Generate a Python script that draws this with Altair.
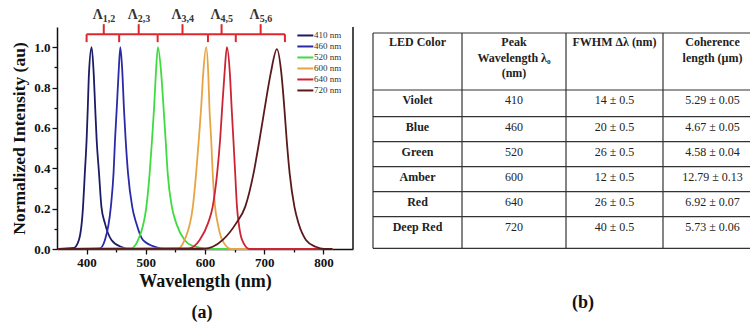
import altair as alt
import pandas as pd

# ---------------- spectra ----------------
series_names = ["410 nm", "460 nm", "520 nm", "600 nm", "640 nm", "720 nm"]
series_colors = ["#1c1c66", "#2a2aa8", "#3fdc3f", "#e8a444", "#cc2434", "#5a1a1c"]

wl_410 = [352, 378, 387, 394, 397, 400, 402, 404, 408.5, 412, 414.5, 417, 421, 425, 431, 442, 459, 475, 815]
in_410 = [0, 0.005, 0.045, 0.21, 0.375, 0.54, 0.70, 0.87, 1.0, 0.87, 0.70, 0.54, 0.375, 0.21, 0.127, 0.045, 0.01, 0.0, 0]

wl_460 = [352, 422, 431, 441, 445.5, 448, 451, 454, 457, 460.5, 463, 466, 470, 477, 484, 495, 518, 535, 815]
in_460 = [0, 0.003, 0.045, 0.21, 0.375, 0.54, 0.70, 0.87, 1.0, 0.87, 0.70, 0.54, 0.375, 0.21, 0.127, 0.045, 0.008, 0, 0]

wl_520 = [352, 475, 487, 501, 506.5, 510.5, 514, 517, 520.5, 526, 530, 533.5, 537, 544, 551.5, 565.5, 579, 608, 815]
in_520 = [0, 0.003, 0.045, 0.21, 0.375, 0.54, 0.70, 0.87, 1.0, 0.87, 0.70, 0.54, 0.375, 0.21, 0.127, 0.045, 0.015, 0.0, 0]

wl_600 = [352, 555, 565.5, 579.5, 585, 589.5, 593.5, 597, 602, 605.5, 607.5, 610.5, 613, 617, 621.5, 629, 644, 815]
in_600 = [0, 0.003, 0.045, 0.21, 0.375, 0.54, 0.70, 0.87, 1.0, 0.87, 0.70, 0.54, 0.375, 0.21, 0.127, 0.045, 0.0, 0]

wl_640 = [352, 572, 591, 605, 613, 620.5, 625.5, 629, 633, 637, 642, 645, 648, 651, 654, 657, 662.6, 675, 815]
in_640 = [0, 0.003, 0.045, 0.127, 0.21, 0.375, 0.54, 0.70, 0.87, 1.0, 0.87, 0.70, 0.54, 0.375, 0.21, 0.127, 0.045, 0.0, 0]

wl_720 = [352, 600, 613, 630, 652.5, 668, 682, 692, 701, 711, 721.5, 729, 734, 738, 743, 751, 758, 770.5, 787, 801, 815]
in_720 = [0, 0.002, 0.011, 0.045, 0.127, 0.21, 0.375, 0.54, 0.70, 0.87, 0.99, 0.87, 0.70, 0.54, 0.375, 0.21, 0.127, 0.045, 0.011, 0, 0]

spectra_wl = [wl_410, wl_460, wl_520, wl_600, wl_640, wl_720]
spectra_in = [in_410, in_460, in_520, in_600, in_640, in_720]

# ---------------- brackets Λ ----------------
bracket_edges = [400, 455, 520, 605, 652, 735]
bracket_mids = [429, 488, 562, 628, 694]
bracket_subs = ["1,2", "2,3", "3,4", "4,5", "5,6"]

# ---------------- table ----------------
table_header = ["LED Color", "Peak\nWavelength λ₀\n(nm)", "FWHM Δλ (nm)", "Coherence\nlength (µm)"]
led_color = ["Violet", "Blue", "Green", "Amber", "Red", "Deep Red"]
peak_wl = ["410", "460", "520", "600", "640", "720"]
fwhm = ["14 ± 0.5", "20 ± 0.5", "26 ± 0.5", "12 ± 0.5", "26 ± 0.5", "40 ± 0.5"]
coherence = ["5.29 ± 0.05", "4.67 ± 0.05", "4.58 ± 0.04", "12.79 ± 0.13", "6.92 ± 0.07", "5.73 ± 0.06"]

# ---------------- layout / style ----------------
SERIF = "Liberation Serif"
W, H = 693, 222
PLOT_W = 296
BR_Y, BR_END, BR_TOP, BR_LAB = 1.064, 1.025, 1.114, 1.16
LEG_X0, LEG_X1, LEG_TX, LEG_Y0, LEG_DY = 756, 783, 784, 1.058, 0.0545
col_edges = [0, 89, 193, 290, 389]
row_edges = [0, 57, 83.7, 108.7, 133.7, 158.7, 183.7, 215.3]

# ---------------- spectrum part ----------------
rows = []
for name, wls, ins in zip(series_names, spectra_wl, spectra_in):
    for w, v in zip(wls, ins):
        rows.append({"series": name, "wl": w, "I": v})
spec_df = pd.DataFrame(rows)

xs = alt.Scale(domain=[350, 850], range=[0, PLOT_W], nice=False, zero=False)
ys = alt.Scale(domain=[0, 1.1], nice=False, zero=False)
cs = alt.Scale(domain=series_names, range=series_colors)

x_axis = alt.Axis(
    values=[400, 450, 500, 550, 600, 650, 700, 750, 800],
    labelExpr="datum.value % 100 == 0 ? datum.label : ''",
    tickSize={"condition": {"test": "datum.value % 100 == 0", "value": 5}, "value": 3},
    title="Wavelength (nm)", titleFont=SERIF, titleFontSize=18, titleFontWeight="bold",
    titleColor="#111", titlePadding=3,
    labelFont=SERIF, labelFontSize=13, labelFontWeight="bold", labelColor="#111", labelPadding=2,
    domainColor="#111", domainWidth=1.5, tickColor="#111", tickWidth=1.3, grid=False,
)
y_axis = alt.Axis(
    values=[0, 0.1, 0.2, 0.3, 0.4, 0.5, 0.6, 0.7, 0.8, 0.9, 1.0],
    labelExpr="round(datum.value*10) % 2 == 0 ? format(datum.value, '.1f') : ''",
    tickSize={"condition": {"test": "round(datum.value*10) % 2 == 0", "value": 5}, "value": 3},
    title="Normalized Intensity (au)", titleFont=SERIF, titleFontSize=17.5, titleFontWeight="bold",
    titleColor="#111", titlePadding=5,
    labelFont=SERIF, labelFontSize=13, labelFontWeight="bold", labelColor="#111", labelPadding=2,
    domainColor="#111", domainWidth=1.5, tickColor="#111", tickWidth=1.3, grid=False,
)


def X(field):
    return alt.X(field, scale=xs, axis=x_axis)


def Y(field):
    return alt.Y(field, scale=ys, axis=y_axis)


lines = alt.Chart(spec_df).mark_line(strokeWidth=1.8, interpolate="monotone").encode(
    x=X("wl:Q"),
    y=Y("I:Q"),
    color=alt.Color("series:N", scale=cs, legend=None),
    detail="series:N",
)

border_df = pd.DataFrame({"wl": [850], "y0": [0], "y1": [1.1]})
right_border = alt.Chart(border_df).mark_rule(color="#111", strokeWidth=1.5).encode(
    x=X("wl:Q"), y=Y("y0:Q"), y2="y1:Q"
)

# brackets
hb = pd.DataFrame({"a": bracket_edges[:-1], "b": bracket_edges[1:], "y": [BR_Y] * 5})
br_h = alt.Chart(hb).mark_rule(color="#e0262a", strokeWidth=2).encode(
    x=X("a:Q"), x2="b:Q", y=Y("y:Q")
)
vb = pd.DataFrame({"x": bracket_edges, "y": [BR_END] * 6, "y2": [BR_Y] * 6})
br_e = alt.Chart(vb).mark_rule(color="#e0262a", strokeWidth=2).encode(
    x=X("x:Q"), y=Y("y:Q"), y2="y2:Q"
)
sb = pd.DataFrame({"x": bracket_mids, "y": [BR_Y] * 5, "y2": [BR_TOP] * 5})
br_s = alt.Chart(sb).mark_rule(color="#e0262a", strokeWidth=2).encode(
    x=X("x:Q"), y=Y("y:Q"), y2="y2:Q"
)
lab = pd.DataFrame({"x": bracket_mids, "y": [BR_LAB] * 5, "L": ["Λ"] * 5, "sub": bracket_subs})
lam = alt.Chart(lab).mark_text(font=SERIF, fontSize=14, fontWeight="bold", color="#333", align="right",
                               baseline="middle", dx=-1).encode(
    x=X("x:Q"), y=Y("y:Q"), text="L:N"
)
lam_sub = alt.Chart(lab).mark_text(font=SERIF, fontSize=10, fontWeight="bold", color="#333", align="left",
                                   baseline="middle", dx=-1, dy=4).encode(
    x=X("x:Q"), y=Y("y:Q"), text="sub:N"
)

# legend
leg = pd.DataFrame({
    "series": series_names,
    "x0": [LEG_X0] * 6, "x1": [LEG_X1] * 6, "tx": [LEG_TX] * 6,
    "y": [LEG_Y0 - i * LEG_DY for i in range(6)],
})
leg_lines = alt.Chart(leg).mark_rule(strokeWidth=2).encode(
    x=X("x0:Q"), x2="x1:Q", y=Y("y:Q"),
    color=alt.Color("series:N", scale=cs, legend=None),
)
leg_text = alt.Chart(leg).mark_text(font=SERIF, fontSize=9, color="#333", align="left", baseline="middle").encode(
    x=X("tx:Q"), y=Y("y:Q"), text="series:N"
)

cap_a = alt.Chart(pd.DataFrame({"x": [595], "y": [-0.317], "t": ["(a)"]})).mark_text(
    font=SERIF, fontSize=18, fontWeight="bold", color="#111", baseline="middle"
).encode(x=X("x:Q"), y=Y("y:Q"), text="t:N")

spectrum = alt.layer(lines, right_border, br_h, br_e, br_s, lam, lam_sub, leg_lines, leg_text, cap_a)

# ---------------- table part ----------------
txs = alt.Scale(domain=[0, 389], range=[316, 705], nice=False, zero=False)
tys = alt.Scale(domain=[0, 215.3], range=[6, 221.3], nice=False, zero=False)


def TX(field):
    return alt.X(field, scale=txs, axis=None)


def TY(field):
    return alt.Y(field, scale=tys, axis=None)


vl = pd.DataFrame({"x": col_edges, "y": [0] * 5, "y2": [row_edges[-1]] * 5})
t_v = alt.Chart(vl).mark_rule(color="#333", strokeWidth=1.2).encode(
    x=TX("x:Q"), y=TY("y:Q"), y2="y2:Q"
)
hl = pd.DataFrame({"y": row_edges, "x": [0] * len(row_edges), "x2": [col_edges[-1]] * len(row_edges)})
t_h = alt.Chart(hl).mark_rule(color="#333", strokeWidth=1.2).encode(
    y=TY("y:Q"), x=TX("x:Q"), x2="x2:Q"
)
col_centers = [(a + b) / 2 for a, b in zip(col_edges[:-1], col_edges[1:])]
hdr = pd.DataFrame({"x": col_centers, "y": [4] * 4, "t": table_header})
t_hdr = alt.Chart(hdr).mark_text(font=SERIF, fontSize=12, fontWeight="bold", color="#222",
                                 baseline="top", lineBreak="\n", lineHeight=15.5).encode(
    x=TX("x:Q"), y=TY("y:Q"), text="t:N"
)
body_rows = []
for i in range(6):
    yy = row_edges[i + 1] + 10
    body_rows.append({"x": col_centers[0], "y": yy, "t": led_color[i], "b": "bold"})
    body_rows.append({"x": col_centers[1], "y": yy, "t": peak_wl[i], "b": "normal"})
    body_rows.append({"x": col_centers[2], "y": yy, "t": fwhm[i], "b": "normal"})
    body_rows.append({"x": col_centers[3], "y": yy, "t": coherence[i], "b": "normal"})
body = pd.DataFrame(body_rows)
t_body_b = alt.Chart(body[body.b == "bold"]).mark_text(font=SERIF, fontSize=12, fontWeight="bold", color="#222",
                                                       baseline="middle").encode(
    x=TX("x:Q"), y=TY("y:Q"), text="t:N"
)
t_body_n = alt.Chart(body[body.b == "normal"]).mark_text(font=SERIF, fontSize=12, color="#222",
                                                         baseline="middle").encode(
    x=TX("x:Q"), y=TY("y:Q"), text="t:N"
)
cap_b = alt.Chart(pd.DataFrame({"x": [210], "y": [270], "t": ["(b)"]})).mark_text(
    font=SERIF, fontSize=18, fontWeight="bold", color="#111", baseline="middle"
).encode(x=TX("x:Q"), y=TY("y:Q"), text="t:N")

table = alt.layer(t_v, t_h, t_hdr, t_body_b, t_body_n, cap_b)

chart = alt.layer(spectrum, table).resolve_scale(
    x="independent", y="independent", color="independent"
).properties(
    width=W, height=H,
    autosize=alt.AutoSizeParams(type="none"),
    padding={"left": 57, "top": 27, "right": 0, "bottom": 79},
    background="white",
).configure(font=SERIF).configure_view(stroke=None).configure_axis(
    labelFont=SERIF, titleFont=SERIF, labelFontWeight="bold", titleFontWeight="bold"
)

chart.save("out.html", embed_options={"renderer": "svg", "actions": False})
